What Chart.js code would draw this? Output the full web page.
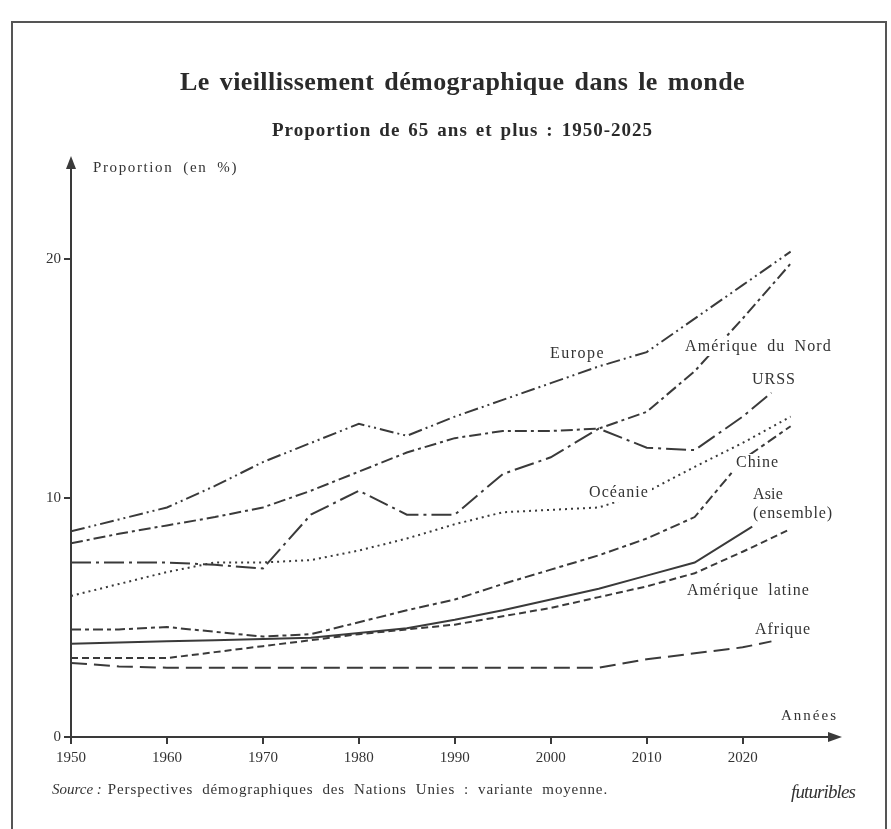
<!DOCTYPE html>
<html lang="fr">
<head>
<meta charset="utf-8">
<title>Le vieillissement démographique dans le monde</title>
<script src="https://cdn.jsdelivr.net/npm/chart.js@4.4.1/dist/chart.umd.min.js"></script>
<style>
  html, body { margin: 0; padding: 0; background: #fff; }
  #wrap { width: 891px; height: 829px; }
</style>
</head>
<body>
<div id="wrap"><canvas id="linechart" width="891" height="829"></canvas></div>
<script>
// annees
var years = [1950, 1955, 1960, 1965, 1970, 1975, 1980, 1985, 1990, 1995, 2000, 2005, 2010, 2015, 2020, 2025];
var years_urss = [1950, 1955, 1960, 1965, 1970, 1975, 1980, 1985, 1990, 1995, 2000, 2005, 2010, 2015, 2020, 2023];
var years_asie = [1950, 1955, 1960, 1965, 1970, 1975, 1980, 1985, 1990, 1995, 2000, 2005, 2010, 2015, 2021];
var years_afrique = [1950, 1955, 1960, 1965, 1970, 1975, 1980, 1985, 1990, 1995, 2000, 2005, 2010, 2015, 2020, 2023];
var year_ticks = [1950, 1960, 1970, 1980, 1990, 2000, 2010, 2020];
var percent_ticks = [0, 10, 20];

// proportion de 65 ans et plus (%)
var europe = [8.6, 9.1, 9.6, 10.5, 11.5, 12.3, 13.1, 12.6, 13.4, 14.1, 14.8, 15.5, 16.1, 17.5, 18.9, 20.3];
var amerique_nord = [8.1, 8.5, 8.85, 9.2, 9.6, 10.3, 11.1, 11.9, 12.5, 12.8, 12.8, 12.9, 13.6, 15.3, 17.5, 19.8];
var urss = [7.3, 7.3, 7.3, 7.2, 7.05, 9.3, 10.3, 9.3, 9.3, 11.0, 11.7, 12.9, 12.1, 12.0, 13.4, 14.4];
var oceanie = [5.9, 6.4, 6.9, 7.3, 7.3, 7.4, 7.8, 8.3, 8.9, 9.4, 9.5, 9.6, 10.25, 11.3, 12.3, 13.4];
var chine = [4.5, 4.5, 4.6, 4.4, 4.2, 4.3, 4.8, 5.3, 5.75, 6.4, 7.0, 7.6, 8.3, 9.2, 11.6, 13.0];
var asie = [3.9, 3.95, 4.0, 4.05, 4.1, 4.15, 4.35, 4.55, 4.9, 5.3, 5.75, 6.2, 6.75, 7.3, 8.8];
var amerique_latine = [3.3, 3.3, 3.3, 3.55, 3.8, 4.05, 4.3, 4.5, 4.7, 5.05, 5.4, 5.85, 6.3, 6.85, 7.75, 8.7];
var afrique = [3.1, 2.95, 2.9, 2.9, 2.9, 2.9, 2.9, 2.9, 2.9, 2.9, 2.9, 2.9, 3.25, 3.5, 3.75, 4.0];

var INK = "#3a3a3a";
var SERIF = '"Liberation Serif", "Times New Roman", serif';

function points(xs, ys) {
  var out = [];
  for (let i = 0; i < ys.length; i++) {
    out.push({ x: xs[i], y: ys[i] });
  }
  return out;
}

function serie(name, xs, ys, dash) {
  return {
    label: name,
    data: points(xs, ys),
    borderColor: INK,
    borderWidth: 2,
    borderDash: dash,
    borderCapStyle: "butt",
    pointRadius: 0,
    tension: 0,
    fill: false,
  };
}

// texte justifie sur une largeur donnee, mot par mot
function fit_text(ctx, text, left, y, width, gap_max) {
  gap_max = gap_max || 9;
  ctx.letterSpacing = "0px";
  ctx.textAlign = "left";
  ctx.textBaseline = "middle";
  var words = text.split(" ");
  var sizes = [];
  var sum = 0;
  var letters = 0;
  for (let i = 0; i < words.length; i++) {
    sizes.push(ctx.measureText(words[i]).width);
    sum += sizes[i];
    letters += words[i].length;
  }
  var n = words.length - 1;
  var gap = n ? (width - sum) / n : 0;
  var ls = 0;
  if (!n || gap > gap_max) {
    gap = n ? gap_max : 0;
    ls = (width - sum - gap * n) / letters;
  }
  var x = left;
  ctx.letterSpacing = ls + "px";
  for (let i = 0; i < words.length; i++) {
    ctx.fillText(words[i], x, y);
    x += sizes[i] + ls * words[i].length + gap;
  }
  ctx.letterSpacing = "0px";
}

function label_box(ctx, text, left, y, width) {
  ctx.fillStyle = "#fff";
  ctx.fillRect(left - 3, y - 9, width + 6, 18);
  ctx.fillStyle = "#333";
  fit_text(ctx, text, left, y, width);
}

var decor = {
  id: "decor",
  beforeDraw: function (chart) {
    var ctx = chart.ctx;
    ctx.save();
    ctx.fillStyle = "#fff";
    ctx.fillRect(0, 0, chart.width, chart.height);
    ctx.strokeStyle = "#555";
    ctx.lineWidth = 2;
    ctx.strokeRect(12, 22, 874, 840);
    ctx.restore();
  },
  afterDatasetsDraw: function (chart) {
    var ctx = chart.ctx;
    ctx.save();
    ctx.font = "16px " + SERIF;
    label_box(ctx, "Europe", 550, 354, 55);
    label_box(ctx, "Amérique du Nord", 685, 347, 147);
    label_box(ctx, "URSS", 752, 380, 44);
    label_box(ctx, "Océanie", 589, 493, 60);
    label_box(ctx, "Chine", 736, 463, 43);
    label_box(ctx, "Asie", 753, 495, 30);
    label_box(ctx, "(ensemble)", 753, 514, 80);
    label_box(ctx, "Amérique latine", 687, 591, 123);
    label_box(ctx, "Afrique", 755, 630, 56);
    ctx.restore();
  },
  afterDraw: function (chart) {
    var ctx = chart.ctx;
    var area = chart.chartArea;
    ctx.save();
    ctx.fillStyle = INK;
    // fleches des axes
    ctx.beginPath();
    ctx.moveTo(area.left, area.top - 12);
    ctx.lineTo(area.left - 5, area.top + 1);
    ctx.lineTo(area.left + 5, area.top + 1);
    ctx.closePath();
    ctx.fill();
    ctx.beginPath();
    ctx.moveTo(area.right + 13, area.bottom);
    ctx.lineTo(area.right - 1, area.bottom - 5);
    ctx.lineTo(area.right - 1, area.bottom + 5);
    ctx.closePath();
    ctx.fill();

    ctx.fillStyle = "#2a2a2a";
    ctx.font = "bold 26px " + SERIF;
    fit_text(ctx, "Le vieillissement démographique dans le monde", 180, 83, 565, 10);
    ctx.font = "bold 19px " + SERIF;
    fit_text(ctx, "Proportion de 65 ans et plus : 1950-2025", 272, 131, 381, 8);

    ctx.fillStyle = "#333";
    ctx.font = "15px " + SERIF;
    fit_text(ctx, "Proportion (en %)", 93, 168, 145, 10);
    fit_text(ctx, "Années", 781, 716, 57);

    ctx.font = "italic 15px " + SERIF;
    var w = ctx.measureText("Source :").width;
    ctx.textAlign = "left";
    ctx.textBaseline = "middle";
    ctx.fillText("Source :", 52, 790);
    ctx.font = "15px " + SERIF;
    fit_text(ctx, "Perspectives démographiques des Nations Unies : variante moyenne.", 52 + w + 6, 790, 550 - w, 9);
    ctx.font = "italic 19px " + SERIF;
    fit_text(ctx, "futuribles", 791, 793, 64);
    ctx.restore();
  },
};

var chart1 = document.getElementById("linechart");
var myChart1 = new Chart(chart1, {
  type: "line",
  data: {
    datasets: [
      serie("Europe", years, europe, [14, 4, 2, 4, 2, 4]),
      serie("Amérique du Nord", years, amerique_nord, [12, 4, 3, 4]),
      serie("URSS", years_urss, urss, [20, 5, 3, 5]),
      serie("Océanie", years, oceanie, [2, 4]),
      serie("Chine", years, chine, [10, 4, 4, 4]),
      serie("Asie (ensemble)", years_asie, asie, []),
      serie("Amérique latine", years, amerique_latine, [7, 4]),
      serie("Afrique", years_afrique, afrique, [16, 7]),
    ],
  },
  options: {
    responsive: false,
    animation: false,
    layout: {
      padding: { top: 168, left: 21, right: 62, bottom: 52 },
    },
    scales: {
      x: {
        type: "linear",
        min: 1950,
        max: 2029,
        afterBuildTicks: function (axis) {
          axis.ticks = year_ticks.map(function (v) { return { value: v }; });
        },
        afterFit: function (axis) {
          axis.height = 40;
        },
        grid: { drawOnChartArea: false, drawTicks: true, tickLength: 7, color: INK, lineWidth: 2 },
        border: { display: true, color: INK, width: 2 },
        ticks: {
          color: "#333",
          padding: 5,
          maxRotation: 0,
          font: { family: SERIF, size: 15 },
          callback: function (v) { return String(v); },
        },
      },
      y: {
        min: 0,
        max: 23.8,
        afterBuildTicks: function (axis) {
          axis.ticks = percent_ticks.map(function (v) { return { value: v }; });
        },
        afterFit: function (axis) {
          axis.width = 50;
        },
        grid: { drawOnChartArea: false, drawTicks: true, tickLength: 7, color: INK, lineWidth: 2 },
        border: { display: true, color: INK, width: 2 },
        ticks: {
          color: "#333",
          padding: 3,
          font: { family: SERIF, size: 15 },
          callback: function (v) { return String(v); },
        },
      },
    },
    plugins: {
      legend: { display: false },
      tooltip: { enabled: false },
      title: { display: false },
    },
  },
  plugins: [decor],
});
</script>
</body>
</html>
